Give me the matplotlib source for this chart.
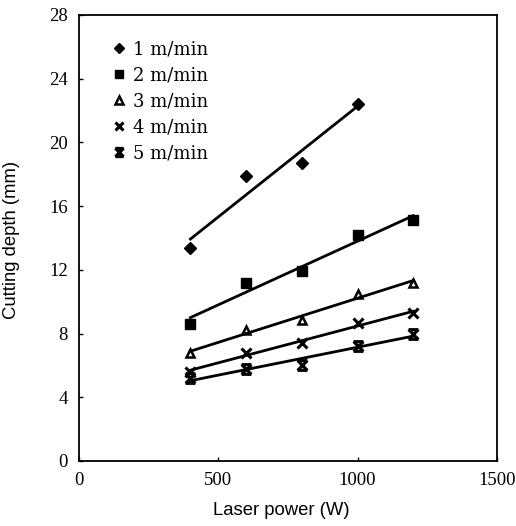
import numpy as np
import matplotlib.pyplot as plt
from matplotlib.path import Path

# laser power (W) and cutting depth (mm) for each cutting speed
power = [400, 600, 800, 1000, 1200]
depth_1 = [13.4, 17.9, 18.7, 22.4]            # 1 m/min, no point at 1200 W
depth_2 = [8.6, 11.2, 11.9, 14.2, 15.1]
depth_3 = [6.8, 8.2, 8.85, 10.5, 11.2]
depth_4 = [5.6, 6.8, 7.4, 8.65, 9.3]
depth_5 = [5.2, 5.8, 6.0, 7.2, 8.0]
labels = ['1 m/min', '2 m/min', '3 m/min', '4 m/min', '5 m/min']

# "x" with caps top and bottom, like the hourglass marker in the figure
cap_x = Path([(-1, 1), (1, -1), (-1, -1), (1, 1), (-1, 1), (1, 1), (-1, -1), (1, -1)],
             [Path.MOVETO, Path.LINETO, Path.MOVETO, Path.LINETO,
              Path.MOVETO, Path.LINETO, Path.MOVETO, Path.LINETO])

series = [
    (power[:4], depth_1, dict(marker='D', markersize=6, color='black')),
    (power, depth_2, dict(marker='s', markersize=7, color='black')),
    (power, depth_3, dict(marker='^', markersize=6, markerfacecolor='white',
                          markeredgecolor='black', markeredgewidth=1.8)),
    (power, depth_4, dict(marker='x', markersize=7, markeredgewidth=2.2, color='black')),
    (power, depth_5, dict(marker=cap_x, markersize=7, markeredgewidth=2.2, color='black')),
]

fig = plt.figure(figsize=(5.16, 5.26), dpi=100)
ax = fig.add_axes([0.153, 0.1236, 0.81, 0.848])

for (x, y, style), lab in zip(series, labels):
    x = np.array(x, dtype=float)
    y = np.array(y, dtype=float)
    ax.plot(x, y, linestyle='none', label=lab, **style)
    k, b = np.polyfit(x, y, 1)
    ax.plot([x[0], x[-1]], [k * x[0] + b, k * x[-1] + b], color='black', lw=2.0)

ax.set_xlim(0, 1500)
ax.set_ylim(0, 28)
ax.set_xticks([0, 500, 1000, 1500])
ax.set_yticks(range(0, 29, 4))
ax.tick_params(direction='in', length=3, width=1, pad=8)
for t in ax.get_xticklabels() + ax.get_yticklabels():
    t.set_fontfamily('Liberation Serif')
    t.set_fontsize(13.5)
for s in ax.spines.values():
    s.set_linewidth(1.3)

ax.set_xlabel('Laser power (W)', fontfamily='Liberation Sans', fontsize=13.3)
ax.set_ylabel('Cutting depth (mm)', fontfamily='Liberation Sans', fontsize=13.3)
ax.xaxis.set_label_coords(0.483, -0.093)
ax.yaxis.set_label_coords(-0.14, 0.495)

ax.legend(loc='upper left', frameon=False, bbox_to_anchor=(0.045, 0.98),
          prop={'family': 'DejaVu Serif', 'size': 13},
          handlelength=0.6, handletextpad=0.45, labelspacing=0.45, markerscale=0.85)

fig.savefig('out.png', dpi=100)
